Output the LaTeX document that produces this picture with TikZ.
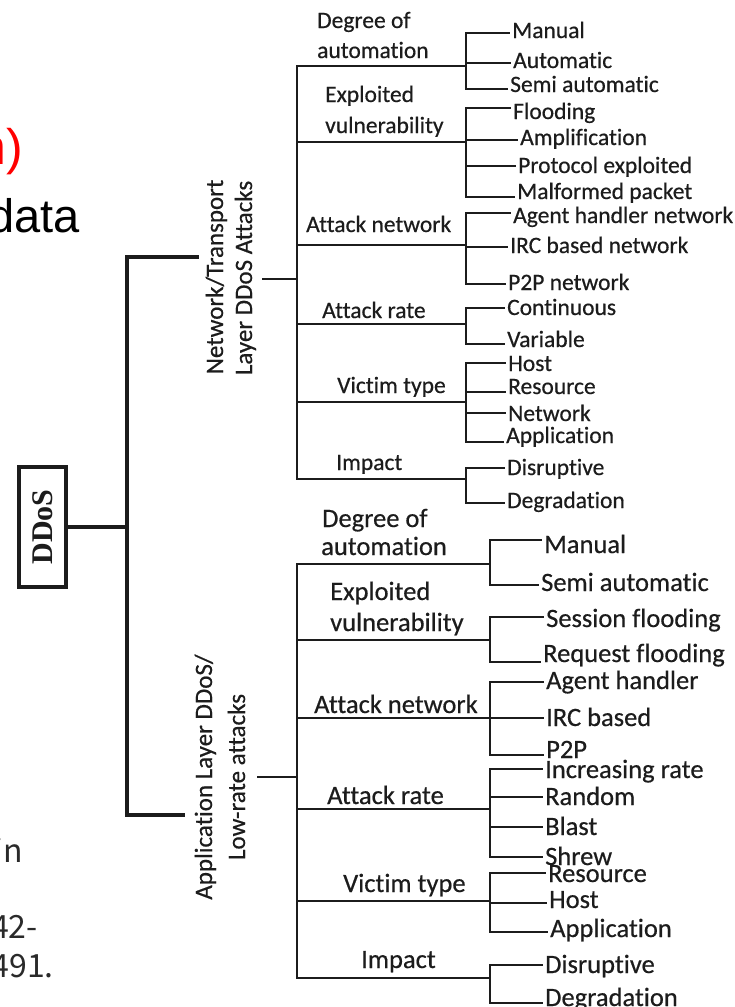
\documentclass[tikz,border=0pt]{standalone}
\usepackage{fontspec}
\setmainfont{Carlito}[Ligatures={NoCommon,NoContextual}, FakeBold=0.5]
\newfontfamily\slidefont{Liberation Sans}
\newfontfamily\notefont{Noto Sans CJK JP}
\newfontfamily\rootfont{Liberation Serif}
\definecolor{ink}{HTML}{1C1C1C}
\definecolor{slidered}{HTML}{FF0000}
\definecolor{notegray}{HTML}{2A2A2A}

\tikzset{
  trunk/.style={draw=ink, line width=4pt, line cap=rect, line join=miter},
  spine/.style={draw=ink, line width=2.6pt, line cap=rect},
  twig/.style={draw=ink, line width=2.2pt, line cap=rect},
  upper/.style={font=\fontsize{23.5}{28}\selectfont, text=ink, inner sep=0pt},
  lower/.style={font=\fontsize{26.5}{31}\selectfont, text=ink, inner sep=0pt},
  catT/.style={upper, anchor=base west},
  catB/.style={lower, anchor=base west},
  leafT/.style={upper, anchor=base west, inner xsep=3pt},
  leafB/.style={lower, anchor=base west, inner xsep=3pt},
  sidelabel/.style={font=\fontsize{25}{30}\selectfont, text=ink, inner sep=0pt, rotate=90, anchor=base},
  rootbox/.style={draw=ink, line width=4pt, rotate=90, minimum width=120pt, minimum height=47pt,
    inner sep=0pt, font=\rootfont\bfseries\fontsize{30}{30}\selectfont, text=ink},
  slidetext/.style={inner sep=0pt, anchor=base east}
}

\begin{document}
\begin{tikzpicture}[x=1pt, y=-1pt]
  \useasboundingbox (0,0) rectangle (735,1007);
  \fill[white] (0,0) rectangle (735,1007);
  \clip (0,0) rectangle (735,1007);

  % text of the underlying slide
  \node[slidetext, text=slidered, font=\slidefont\fontsize{50}{50}\selectfont] (frag1) at (23,164) {n)};
  \node[slidetext, text=black, font=\slidefont\fontsize{47}{47}\selectfont] (frag2) at (80,232) {data};
  \node[slidetext, text=notegray, font=\notefont\fontsize{32}{32}\selectfont] (frag3) at (23,862) {in};
  \node[slidetext, text=notegray, font=\notefont\fontsize{32}{32}\selectfont] (frag4) at (38,938) {42-};
  \node[slidetext, text=notegray, font=\notefont\fontsize{32}{32}\selectfont] (frag5) at (54,977) {491.};

  % root and its two arms
  \node[rootbox] (root) at (42.5,527) {DDoS};
  \coordinate (hub) at (127,527);
  \coordinate (armT) at (197,257);
  \coordinate (armB) at (183,815);
  \draw[trunk] (root.south) -- (hub);
  \draw[trunk] (armT) -- (armT -| hub) -- (armB -| hub) -- (armB);

  % ---------- network / transport layer ----------
  \node[sidelabel] (netA) at (223,277) {Network/Transport};
  \node[sidelabel] (netB) at (252,278) {Layer DDoS Attacks};

  \coordinate (T1) at (297,66);
  \coordinate (T2) at (297,142);
  \coordinate (T3) at (297,245);
  \coordinate (T4) at (297,324);
  \coordinate (T5) at (297,402);
  \coordinate (T6) at (297,479);
  \coordinate (Tstub) at (263,279);
  \draw[spine] (T1) -- (T6);
  \draw[spine] (Tstub) -- (Tstub -| T1);

  \node[catT] (T1l1) at (317,28) {Degree of};
  \node[catT] (T1l2) at (317,58) {automation};
  \node[catT] (T2l1) at (325,102) {Exploited};
  \node[catT] (T2l2) at (325,133) {vulnerability};
  \node[catT] (T3l) at (306,232) {Attack network};
  \node[catT] (T4l) at (322,318) {Attack rate};
  \node[catT] (T5l) at (337,393) {Victim type};
  \node[catT] (T6l) at (336,470) {Impact};

  \foreach \n/\ly/\by/\ex/\t in {
      T1a/33/38/509/Manual, T1b/63/68/510/Automatic, T1c/89/92/507/Semi automatic,
      T2a/108/119/510/Flooding, T2b/140/145/517/Amplification,
      T2c/166/173/515/Protocol exploited, T2d/197/199/514/Malformed packet,
      T3a/213/223/510/Agent handler network, T3b/247/253/507/IRC based network,
      T3c/284/290/505/P2P network,
      T4a/308/315/504/Continuous, T4b/344/347/504/Variable,
      T5a/363/371/505/Host, T5b/392/394/505/Resource, T5c/413/421/505/Network,
      T5d/442/443/503/Application,
      T6a/468/475/504/Disruptive, T6b/503/508/504/Degradation}{
    \coordinate (\n-s) at (466,\ly);
    \node[leafT] (\n) at (\ex,\by) {\t};
    \draw[twig] (\n-s) -- (\n-s -| \n.west);
  }
  \foreach \b/\f/\l in {T1/T1a/T1c, T2/T2a/T2d, T3/T3a/T3c, T4/T4a/T4b, T5/T5a/T5d, T6/T6a/T6b}{
    \draw[twig] (\f-s) -- (\l-s);
    \draw[twig] (\b) -- (\b -| \f-s);
  }

  % ---------- application layer ----------
  \node[sidelabel] (appA) at (212,777) {Application Layer DDoS/};
  \node[sidelabel] (appB) at (245,777) {Low-rate attacks};

  \coordinate (B1) at (297,564);
  \coordinate (B2) at (297,640);
  \coordinate (B3) at (297,718);
  \coordinate (B4) at (297,809);
  \coordinate (B5) at (297,901);
  \coordinate (B6) at (297,978);
  \coordinate (Bstub) at (258,777);
  \draw[spine] (B1) -- (B6);
  \draw[spine] (Bstub) -- (Bstub -| B1);

  \node[catB] (B1l1) at (322,527) {Degree of};
  \node[catB] (B1l2) at (321,555) {automation};
  \node[catB] (B2l1) at (330,600) {Exploited};
  \node[catB] (B2l2) at (330,631) {vulnerability};
  \node[catB] (B3l) at (314,713) {Attack network};
  \node[catB] (B4l) at (327,804) {Attack rate};
  \node[catB] (B5l) at (343,892) {Victim type};
  \node[catB] (B6l) at (361,968) {Impact};

  \foreach \n/\ly/\by/\ex/\t in {
      B1a/540/553/541/Manual, B1b/585/591/538/Semi automatic,
      B2a/617/627/543/Session flooding, B2b/662/662/540/Request flooding,
      B3a/682/689/543/Agent handler, B3b/718/726/543/IRC based, B3c/755/758/543/P2P,
      B4a/769/778/542/Increasing rate, B4b/797/805/542/Random,
      B4c/827/835/542/Blast, B4d/857/865/542/Shrew,
      B5a/873/882/545/Resource, B5b/903/908/546/Host, B5c/932/937/547/Application,
      B6a/965/973/542/Disruptive, B6b/1003/1006/542/Degradation}{
    \coordinate (\n-s) at (490,\ly);
    \node[leafB] (\n) at (\ex,\by) {\t};
    \draw[twig] (\n-s) -- (\n-s -| \n.west);
  }
  \foreach \b/\f/\l in {B1/B1a/B1b, B2/B2a/B2b, B3/B3a/B3c, B4/B4a/B4d, B5/B5a/B5c, B6/B6a/B6b}{
    \draw[twig] (\f-s) -- (\l-s);
    \draw[twig] (\b) -- (\b -| \f-s);
  }
\end{tikzpicture}
\end{document}
